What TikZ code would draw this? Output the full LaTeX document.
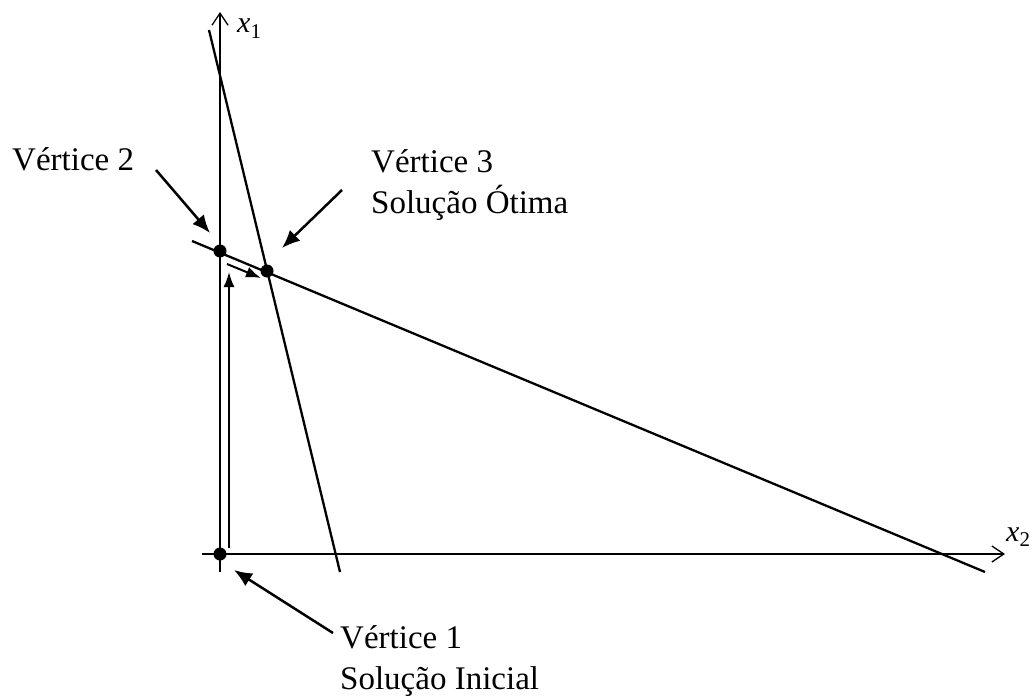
\documentclass[tikz,border=0pt]{standalone}
\usepackage{fontspec}
\setmainfont{Liberation Serif}
\usetikzlibrary{arrows.meta}
\begin{document}
\begin{tikzpicture}[x=1pt,y=-1pt,
  axis/.style={line width=1.4pt,-{Straight Barb[length=12pt,width=16pt,line width=1.3pt]}},
  cline/.style={line width=2.3pt},
  pointer/.style={line width=2.5pt,-{Latex[length=18pt,width=15pt]}},
  patharrow/.style={line width=2pt,-{Latex[length=15pt,width=11pt]}},
  vdot/.style={circle,fill=black,inner sep=0pt,minimum size=13pt},
  lbl/.style={inner sep=0pt,anchor=base west,font=\fontsize{33}{41}\selectfont},
  axlbl/.style={inner sep=0pt,anchor=base west,font=\fontsize{30}{34}\selectfont}]
\useasboundingbox (0,0) rectangle (1035,698);
% axes
\coordinate (x1b) at (220,572);
\coordinate (x1t) at (220,12);
\coordinate (x2l) at (202,554);
\coordinate (x2r) at (1005,554);
\draw[axis] (x1b) -- (x1t);
\draw[axis] (x2l) -- (x2r);
\node[axlbl] (lx1) at (237,33) {\textit{x}\textsubscript{1}};
\node[axlbl] (lx2) at (1006,541) {\textit{x}\textsubscript{2}};
% constraint lines
\coordinate (sa) at (209,30);
\coordinate (sb) at (340,572);
\coordinate (ta) at (192,241);
\coordinate (tb) at (985,572);
\draw[cline] (sa) -- (sb);
\draw[cline] (ta) -- (tb);
% vertices
\node[vdot] (v1) at (220,554) {};
\node[vdot] (v2) at (220,251) {};
\node[vdot] (v3) at (267,271) {};
% simplex path arrows
\coordinate (pa) at (229,548);
\coordinate (pb) at (229,272);
\coordinate (pc) at (227,264);
\coordinate (pd) at (261,278);
\draw[patharrow] (pa) -- (pb);
\draw[patharrow] (pc) -- (pd);
% labels
\node[lbl] (l2) at (12,170) {Vértice 2};
\node[lbl,align=left,anchor=north west] (l3) at (371,149) {Vértice 3\\Solução Ótima};
\node[lbl,align=left,anchor=north west] (l1) at (340,625) {Vértice 1\\Solução Inicial};
% pointers
\coordinate (q2s) at (156,170);
\coordinate (q2e) at (210,233);
\coordinate (q3s) at (342,190);
\coordinate (q3e) at (282,248);
\coordinate (q1s) at (333,633);
\coordinate (q1e) at (234,570);
\draw[pointer] (q2s) -- (q2e);
\draw[pointer] (q3s) -- (q3e);
\draw[pointer] (q1s) -- (q1e);
\end{tikzpicture}
\end{document}
